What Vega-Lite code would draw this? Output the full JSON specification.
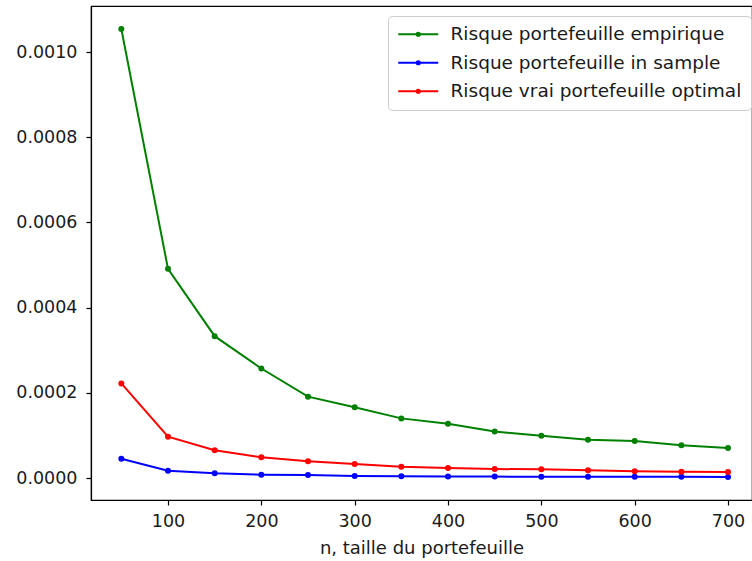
{
  "$schema": "https://vega.github.io/schema/vega-lite/v6.json",
  "width": 661,
  "height": 494,
  "autosize": {"type": "none"},
  "padding": {"left": 91, "top": 6, "right": 0, "bottom": 61},
  "background": "white",
  "config": {
    "font": "DejaVu Sans",
    "view": {"stroke": "black", "strokeWidth": 1.2},
    "axis": {
      "grid": false,
      "domainColor": "black",
      "domainWidth": 1.2,
      "tickColor": "black",
      "tickSize": 5,
      "tickWidth": 1.2,
      "labelColor": "#1a1a1a",
      "labelFont": "DejaVu Sans",
      "labelFontSize": 17.5,
      "titleFont": "DejaVu Sans",
      "titleFontSize": 18,
      "titleFontWeight": "normal",
      "titleColor": "#1a1a1a"
    }
  },
  "data": {
    "values": [
      {"n": 50, "serie": "Risque portefeuille empirique", "risque": 0.001054},
      {"n": 100, "serie": "Risque portefeuille empirique", "risque": 0.000491},
      {"n": 150, "serie": "Risque portefeuille empirique", "risque": 0.000333},
      {"n": 200, "serie": "Risque portefeuille empirique", "risque": 0.000257},
      {"n": 250, "serie": "Risque portefeuille empirique", "risque": 0.000191},
      {"n": 300, "serie": "Risque portefeuille empirique", "risque": 0.000166},
      {"n": 350, "serie": "Risque portefeuille empirique", "risque": 0.000140},
      {"n": 400, "serie": "Risque portefeuille empirique", "risque": 0.0001275},
      {"n": 450, "serie": "Risque portefeuille empirique", "risque": 0.000109},
      {"n": 500, "serie": "Risque portefeuille empirique", "risque": 0.0000993},
      {"n": 550, "serie": "Risque portefeuille empirique", "risque": 0.0000900},
      {"n": 600, "serie": "Risque portefeuille empirique", "risque": 0.0000869},
      {"n": 650, "serie": "Risque portefeuille empirique", "risque": 0.0000767},
      {"n": 700, "serie": "Risque portefeuille empirique", "risque": 0.0000704},
      {"n": 50, "serie": "Risque portefeuille in sample", "risque": 0.0000453},
      {"n": 100, "serie": "Risque portefeuille in sample", "risque": 0.0000172},
      {"n": 150, "serie": "Risque portefeuille in sample", "risque": 0.0000110},
      {"n": 200, "serie": "Risque portefeuille in sample", "risque": 0.0000078},
      {"n": 250, "serie": "Risque portefeuille in sample", "risque": 0.0000068},
      {"n": 300, "serie": "Risque portefeuille in sample", "risque": 0.0000050},
      {"n": 350, "serie": "Risque portefeuille in sample", "risque": 0.0000042},
      {"n": 400, "serie": "Risque portefeuille in sample", "risque": 0.0000036},
      {"n": 450, "serie": "Risque portefeuille in sample", "risque": 0.0000033},
      {"n": 500, "serie": "Risque portefeuille in sample", "risque": 0.0000030},
      {"n": 550, "serie": "Risque portefeuille in sample", "risque": 0.0000029},
      {"n": 600, "serie": "Risque portefeuille in sample", "risque": 0.0000028},
      {"n": 650, "serie": "Risque portefeuille in sample", "risque": 0.0000027},
      {"n": 700, "serie": "Risque portefeuille in sample", "risque": 0.0000025},
      {"n": 50, "serie": "Risque vrai portefeuille optimal", "risque": 0.000222},
      {"n": 100, "serie": "Risque vrai portefeuille optimal", "risque": 0.0000970},
      {"n": 150, "serie": "Risque vrai portefeuille optimal", "risque": 0.0000650},
      {"n": 200, "serie": "Risque vrai portefeuille optimal", "risque": 0.0000486},
      {"n": 250, "serie": "Risque vrai portefeuille optimal", "risque": 0.0000391},
      {"n": 300, "serie": "Risque vrai portefeuille optimal", "risque": 0.0000329},
      {"n": 350, "serie": "Risque vrai portefeuille optimal", "risque": 0.0000265},
      {"n": 400, "serie": "Risque vrai portefeuille optimal", "risque": 0.0000235},
      {"n": 450, "serie": "Risque vrai portefeuille optimal", "risque": 0.0000211},
      {"n": 500, "serie": "Risque vrai portefeuille optimal", "risque": 0.0000204},
      {"n": 550, "serie": "Risque vrai portefeuille optimal", "risque": 0.0000180},
      {"n": 600, "serie": "Risque vrai portefeuille optimal", "risque": 0.0000157},
      {"n": 650, "serie": "Risque vrai portefeuille optimal", "risque": 0.0000148},
      {"n": 700, "serie": "Risque vrai portefeuille optimal", "risque": 0.0000140}
    ]
  },
  "mark": {"type": "line", "strokeWidth": 2, "point": {"filled": true, "size": 36}},
  "encoding": {
    "x": {
      "field": "n",
      "type": "quantitative",
      "title": "n, taille du portefeuille",
      "scale": {"domain": [17.5, 725.7], "nice": false, "zero": false},
      "axis": {"values": [100, 200, 300, 400, 500, 600, 700], "labelPadding": 7, "titlePadding": 10}
    },
    "y": {
      "field": "risque",
      "type": "quantitative",
      "title": null,
      "scale": {"domain": [-0.0000516, 0.001108], "nice": false, "zero": false},
      "axis": {"values": [0, 0.0002, 0.0004, 0.0006, 0.0008, 0.001], "format": ".4f", "labelPadding": 9}
    },
    "color": {
      "field": "serie",
      "type": "nominal",
      "scale": {
        "domain": ["Risque portefeuille empirique", "Risque portefeuille in sample", "Risque vrai portefeuille optimal"],
        "range": ["#008000", "#0000ff", "#ff0000"]
      },
      "legend": {
        "title": null,
        "orient": "none",
        "legendX": 297,
        "legendY": 10,
        "fillColor": "white",
        "strokeColor": "#cccccc",
        "cornerRadius": 4,
        "padding": 9,
        "labelFont": "DejaVu Sans",
        "labelFontSize": 18.5,
        "labelColor": "#1a1a1a",
        "labelLimit": 500,
        "labelOffset": 35,
        "rowPadding": 9.5,
        "symbolType": "M-1,0H4M1.3,0A0.2,0.2,0,1,1,1.7,0A0.2,0.2,0,1,1,1.3,0",
        "symbolSize": 256,
        "symbolStrokeWidth": 2,
        "symbolOpacity": 1
      }
    }
  }
}
